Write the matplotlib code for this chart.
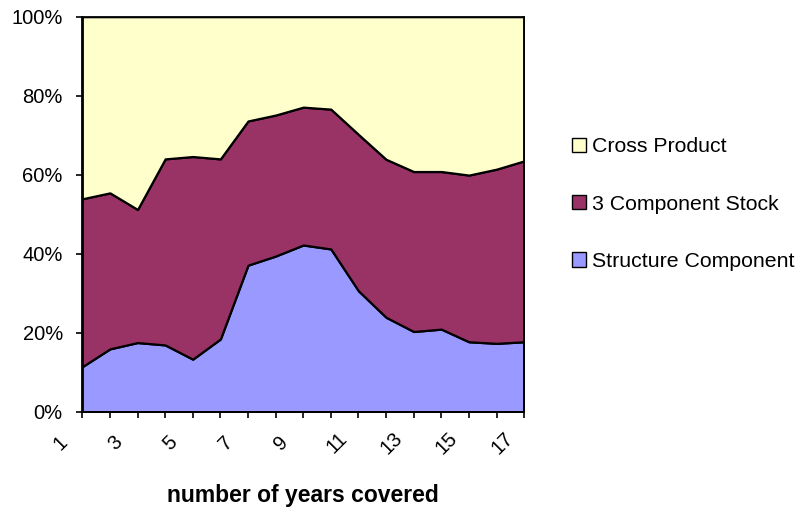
import matplotlib
matplotlib.use("Agg")
import matplotlib.pyplot as plt
from matplotlib.patches import Patch
from matplotlib.transforms import ScaledTranslation

plt.rcParams['font.family'] = ['Liberation Sans', 'DejaVu Sans']

years = list(range(1, 18))
tick_labels = [str(y) if y % 2 == 1 else "" for y in years]
structure = [11.4, 15.9, 17.5, 16.9, 13.3, 18.4, 37.1, 39.4, 42.2, 41.2, 30.6, 23.9, 20.3, 20.9, 17.7, 17.3, 17.7]
three_comp = [42.5, 39.5, 33.7, 47.1, 51.3, 45.6, 36.5, 35.7, 34.9, 35.4, 39.6, 40.0, 40.5, 39.9, 42.2, 44.1, 45.8]
cross = [46.1, 44.6, 48.8, 36.0, 35.4, 36.0, 26.4, 24.9, 22.9, 23.4, 29.8, 36.1, 39.2, 39.2, 40.1, 38.6, 36.5]
series_names = ["Structure Component", "3 Component Stock", "Cross Product"]
colors = ["#9999FF", "#993366", "#FFFFCC"]
y_ticks = [0, 20, 40, 60, 80, 100]
y_tick_labels = ["0%", "20%", "40%", "60%", "80%", "100%"]

fig = plt.figure(figsize=(7.99, 5.09), dpi=100)
ax = fig.add_axes([0.103, 0.1912, 0.553, 0.776])

ax.stackplot(years, structure, three_comp, cross, colors=colors,
             edgecolor="black", linewidth=1.6)

ax.set_xlim(1, 17)
ax.set_ylim(0, 100)
ax.set_yticks(y_ticks)
ax.set_yticklabels(y_tick_labels, fontsize=14.5)
ax.set_xticks(years)
ax.set_xticklabels(tick_labels, fontsize=14.5, rotation=45, ha="center", va="center")

for sp in ax.spines.values():
    sp.set_color("black")
    sp.set_linewidth(1.3)
ax.tick_params(axis="y", direction="out", length=4, width=1.2, pad=10)
ax.tick_params(axis="x", direction="out", length=4, width=1.2, pad=18.5)

offset = ScaledTranslation(-0.22, 0, fig.dpi_scale_trans)
for lab in ax.get_xticklabels():
    lab.set_transform(lab.get_transform() + offset)

ax.set_xlabel("number of years covered", fontsize=16.5, fontweight="bold")
ax.xaxis.set_label_coords(0.5, -0.183)

handles = [Patch(facecolor=colors[i], edgecolor="black", linewidth=1.0, label=series_names[i])
           for i in [2, 1, 0]]
fig.legend(handles=handles, loc="center left", bbox_to_anchor=(0.716, 0.599),
           frameon=False, fontsize=15.3, handlelength=0.66, handleheight=0.66,
           handletextpad=0.3, labelspacing=1.8, borderpad=0, borderaxespad=0)

fig.savefig("out.png", dpi=100)
